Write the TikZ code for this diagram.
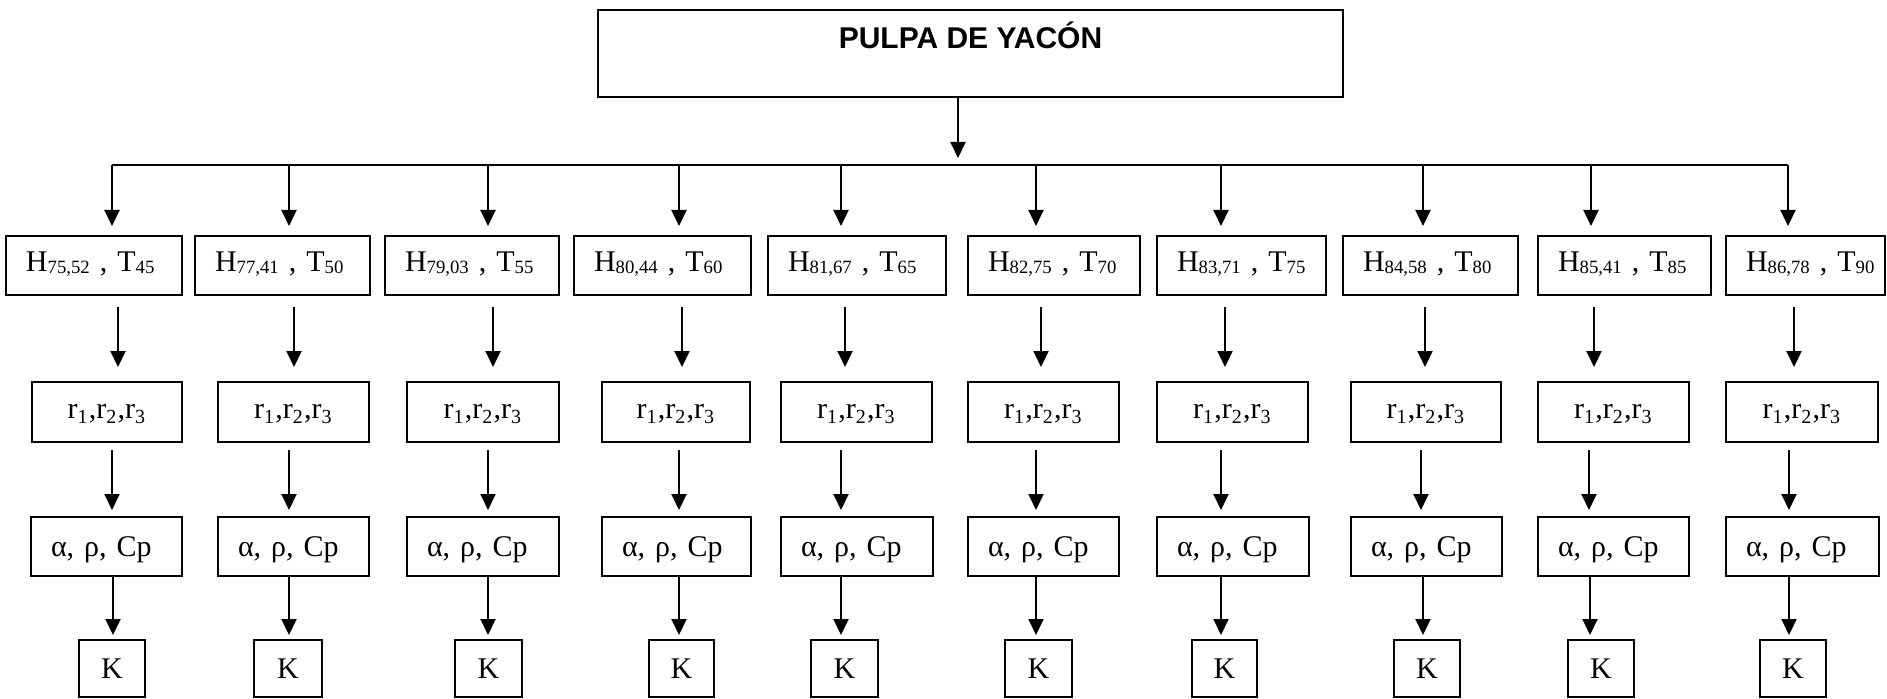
\documentclass[tikz,border=0pt]{standalone}
\usepackage{fontspec}
\setmainfont{Liberation Serif}
\newfontfamily\headfont{Liberation Sans}
\usetikzlibrary{arrows.meta}
% small lowered index, as used in the H/T labels
\newcommand\idx[1]{\raisebox{-1pt}{\fontsize{7.5}{8}\selectfont #1}}

\begin{document}
\begin{tikzpicture}[x=0.4pt,y=-0.4pt,
  frame/.style={draw, line width=0.8pt, inner sep=0pt, outer sep=0pt},
  hbox/.style={frame, minimum height=23.6pt, align=left, inner xsep=8pt,
    text height=8pt, text depth=3.5pt, font=\fontsize{12}{14}\selectfont},
  rbox/.style={frame, minimum height=24pt, text height=5.4pt, text depth=0pt,
    font=\fontsize{12}{14}\selectfont},
  abox/.style={frame, minimum height=23.6pt, align=left, inner xsep=8pt,
    text height=8pt, text depth=0pt, font=\fontsize{12}{14}\selectfont},
  kbox/.style={frame, minimum height=22.8pt, text height=8pt, text depth=0pt,
    font=\fontsize{12}{14}\selectfont},
  arr/.style={line width=0.8pt, -{Triangle[length=6.4pt,width=6pt]}},
  bus/.style={line width=0.8pt}
]
\useasboundingbox (0,0) rectangle (1887,699);

% source box
\node[frame, minimum width=298pt, minimum height=34.8pt,
      font=\headfont\bfseries\fontsize{12}{14}\selectfont,
      text height=8.6pt, text depth=12.2pt] (top) at (970.5,53.5) {PULPA DE YACÓN};

% ten columns: humidity/temperature -> r -> properties -> K
\foreach \n/\dx/\hl/\hr/\hx/\rl/\rr/\rx/\al/\ar/\ax/\kl/\kr/\ha/\hb/\tv in {
  1/112/6/182/118/32/182/112/31/182/113/79/145/75/52/45,
  2/289/195/370/294/218/369/289/218/369/289/254/322/77/41/50,
  3/488/385/559/493/407/559/488/407/559/488/455/522/79/03/55,
  4/679/574/751/682/602/750/679/602/751/679/649/714/80/44/60,
  5/841/768/946/845/781/932/841/781/933/841/811/878/81/67/65,
  6/1036/968/1140/1041/968/1119/1036/968/1119/1036/1005/1072/82/75/70,
  7/1221/1157/1326/1225/1157/1308/1221/1157/1309/1221/1192/1257/83/71/75,
  8/1423/1343/1518/1425/1351/1501/1421/1351/1502/1423/1394/1460/84/58/80,
  9/1591/1538/1711/1594/1538/1689/1589/1538/1689/1590/1568/1634/85/41/85,
  10/1788/1726/1885/1794/1726/1878/1789/1726/1879/1789/1760/1826/86/78/90}
{
  \pgfmathsetmacro\hw{(\hr-\hl)*0.4}
  \pgfmathsetmacro\htw{(\hr-\hl-40)*0.4}
  \pgfmathsetmacro\rw{(\rr-\rl)*0.4}
  \pgfmathsetmacro\aw{(\ar-\al)*0.4}
  \pgfmathsetmacro\atw{(\ar-\al-40)*0.4}
  \pgfmathsetmacro\kw{(\kr-\kl)*0.4}

  \node[hbox, minimum width=\hw pt, text width=\htw pt] (h\n) at ({(\hl+\hr)/2},265.5)
    {\mbox{H\idx{\ha,\hb} , T\idx{\tv}}};
  \node[rbox, minimum width=\rw pt] (r\n) at ({(\rl+\rr)/2},412)
    {r\textsubscript{1},r\textsubscript{2},r\textsubscript{3}};
  \node[abox, minimum width=\aw pt, text width=\atw pt] (a\n) at ({(\al+\ar)/2},546.5)
    {\mbox{α, ρ, Cp}};
  \node[kbox, minimum width=\kw pt] (k\n) at ({(\kl+\kr)/2},668.5) {K};

  \coordinate (tap\n) at (\dx,165);
  \coordinate (xhr\n) at (\hx,0);
  \coordinate (xra\n) at (\rx,0);
  \coordinate (xak\n) at (\ax,0);

  \draw[arr, shorten >=4pt] (tap\n) -- (tap\n |- h\n.north);
  \draw[arr, shorten <=4.8pt, shorten >=6pt] (h\n.south -| xhr\n) -- (r\n.north -| xhr\n);
  \draw[arr, shorten <=3.2pt, shorten >=2.8pt] (r\n.south -| xra\n) -- (a\n.north -| xra\n);
  \draw[arr, shorten >=2pt] (a\n.south -| xak\n) -- (k\n.north -| xak\n);
}

% distribution line and feed from the source box
\draw[bus] (tap1) -- (tap10);
\coordinate (drop) at (958,165);
\draw[arr, shorten >=2.8pt] (top.south -| drop) -- (drop);
\end{tikzpicture}
\end{document}
